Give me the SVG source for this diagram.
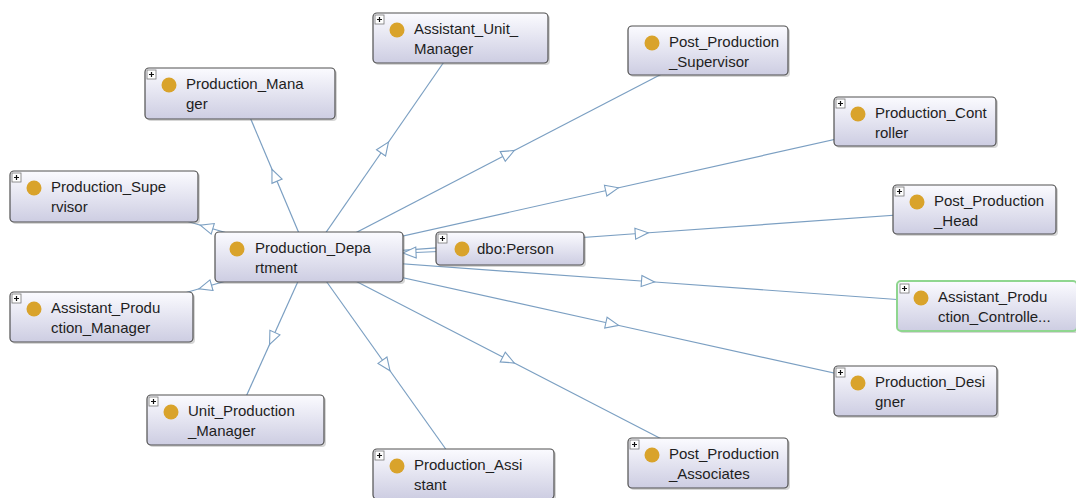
<svg xmlns="http://www.w3.org/2000/svg" width="1076" height="498" viewBox="0 0 1076 498">
<defs>
  <linearGradient id="nodeFill" x1="0" y1="0" x2="0" y2="1">
    <stop offset="0" stop-color="#fbfbff"/>
    <stop offset="1" stop-color="#cdcde2"/>
  </linearGradient>
  <marker id="tri" markerUnits="userSpaceOnUse" markerWidth="16" markerHeight="14" viewBox="-1 -7 16 14" refX="6.5" refY="0" orient="auto">
    <path d="M0,-5.5 L13,0 L0,5.5 Z" fill="#ffffff" stroke="#7b9fc2" stroke-width="1.1"/>
  </marker>
  <g id="plus">
    <rect x="0" y="0" width="9" height="9" fill="#ffffff" stroke="#777" stroke-width="0.8"/>
    <path d="M2,4.5 H7 M4.5,2 V7" stroke="#111" stroke-width="1.2"/>
  </g>
</defs>
<style>
  .edge { fill: none; stroke: #7b9fc2; stroke-width: 1.2; marker-mid: url(#tri); }
  .box { fill: url(#nodeFill); stroke: #505050; stroke-width: 1.2; }
  .sel { stroke: #8fd68f; stroke-width: 2; }
  .shadow { fill: #8a8a8a; opacity: 0.35; }
  .dot { fill: #d9a32b; }
  .lbl { font-family: "Liberation Sans", Arial, sans-serif; font-size: 15px; fill: #1e1e1e; }
</style>
<rect width="1076" height="498" fill="#ffffff"/>

<g id="connectors">
  <path class="edge" d="M309,257 L384.75,147.5 L460.5,38"/>
  <path class="edge" d="M309,257 L508.5,153.5 L708,50"/>
  <path class="edge" d="M309,257 L274.5,175.25 L240,93.5"/>
  <path class="edge" d="M309,257 L612,189.25 L915,121.5"/>
  <path class="edge" d="M309,257 L206.5,227 L104,197"/>
  <path class="edge" d="M309,257 L641.75,233.25 L974.5,209.5"/>
  <path class="edge" d="M309,257 L205.25,287 L101.5,317"/>
  <path class="edge" d="M309,257 L648,281.5 L987,306"/>
  <path class="edge" d="M309,257 L272.25,338.5 L235.5,420"/>
  <path class="edge" d="M309,257 L612.25,324 L915.5,391"/>
  <path class="edge" d="M309,257 L386.25,365.5 L463.5,474"/>
  <path class="edge" d="M309,257 L508.5,360 L708,463"/>
  <path class="edge" d="M510,248.5 L409.5,252.75 L309,257"/>
</g>

<g id="n_assistant_unit_manager">
  <rect class="shadow" x="375" y="15" width="175" height="50" rx="4"/>
  <rect class="box" x="373" y="13" width="175" height="50" rx="4"/>
  <use href="#plus" x="375" y="15"/>
  <circle class="dot" cx="397" cy="30" r="7.5"/>
  <text class="lbl" x="414" y="34">Assistant_Unit_</text>
  <text class="lbl" x="414" y="54">Manager</text>
</g>

<g id="n_post_production_supervisor">
  <rect class="shadow" x="630" y="28" width="160" height="49" rx="4"/>
  <rect class="box" x="628" y="26" width="160" height="49" rx="4"/>
  <circle class="dot" cx="652" cy="43" r="7.5"/>
  <text class="lbl" x="669" y="47">Post_Production</text>
  <text class="lbl" x="669" y="67">_Supervisor</text>
</g>

<g id="n_production_manager">
  <rect class="shadow" x="147" y="70" width="190" height="51" rx="4"/>
  <rect class="box" x="145" y="68" width="190" height="51" rx="4"/>
  <use href="#plus" x="147" y="70"/>
  <circle class="dot" cx="169" cy="85" r="7.5"/>
  <text class="lbl" x="186" y="89">Production_Mana</text>
  <text class="lbl" x="186" y="109">ger</text>
</g>

<g id="n_production_controller">
  <rect class="shadow" x="836" y="99" width="162" height="49" rx="4"/>
  <rect class="box" x="834" y="97" width="162" height="49" rx="4"/>
  <use href="#plus" x="836" y="99"/>
  <circle class="dot" cx="858" cy="114" r="7.5"/>
  <text class="lbl" x="875" y="118">Production_Cont</text>
  <text class="lbl" x="875" y="138">roller</text>
</g>

<g id="n_production_supervisor">
  <rect class="shadow" x="12" y="173" width="188" height="51" rx="4"/>
  <rect class="box" x="10" y="171" width="188" height="51" rx="4"/>
  <use href="#plus" x="12" y="173"/>
  <circle class="dot" cx="34" cy="188" r="7.5"/>
  <text class="lbl" x="51" y="192">Production_Supe</text>
  <text class="lbl" x="51" y="212">rvisor</text>
</g>

<g id="n_production_department">
  <rect class="shadow" x="217" y="234" width="188" height="50" rx="4"/>
  <rect class="box" x="215" y="232" width="188" height="50" rx="4"/>
  <circle class="dot" cx="237" cy="249" r="7.5"/>
  <text class="lbl" x="255" y="253">Production_Depa</text>
  <text class="lbl" x="255" y="273">rtment</text>
</g>

<g id="n_dbo_person">
  <rect class="shadow" x="438" y="234" width="148" height="33" rx="4"/>
  <rect class="box" x="436" y="232" width="148" height="33" rx="4"/>
  <use href="#plus" x="438" y="234"/>
  <circle class="dot" cx="462" cy="249" r="7.5"/>
  <text class="lbl" x="477" y="254">dbo:Person</text>
</g>

<g id="n_post_production_head">
  <rect class="shadow" x="895" y="187" width="163" height="49" rx="4"/>
  <rect class="box" x="893" y="185" width="163" height="49" rx="4"/>
  <use href="#plus" x="895" y="187"/>
  <circle class="dot" cx="917" cy="202" r="7.5"/>
  <text class="lbl" x="934" y="206">Post_Production</text>
  <text class="lbl" x="934" y="226">_Head</text>
</g>

<g id="n_assistant_production_manager">
  <rect class="shadow" x="12" y="294" width="183" height="50" rx="4"/>
  <rect class="box" x="10" y="292" width="183" height="50" rx="4"/>
  <use href="#plus" x="12" y="294"/>
  <circle class="dot" cx="34" cy="309" r="7.5"/>
  <text class="lbl" x="51" y="313">Assistant_Produ</text>
  <text class="lbl" x="51" y="333">ction_Manager</text>
</g>

<g id="n_assistant_production_controller">
  <rect class="shadow" x="899" y="283" width="180" height="50" rx="4"/>
  <rect class="box sel" x="897" y="281" width="180" height="50" rx="4"/>
  <use href="#plus" x="900" y="284"/>
  <circle class="dot" cx="921" cy="298" r="7.5"/>
  <text class="lbl" x="938" y="302">Assistant_Produ</text>
  <text class="lbl" x="938" y="322">ction_Controlle...</text>
</g>

<g id="n_unit_production_manager">
  <rect class="shadow" x="149" y="397" width="177" height="50" rx="4"/>
  <rect class="box" x="147" y="395" width="177" height="50" rx="4"/>
  <use href="#plus" x="149" y="397"/>
  <circle class="dot" cx="171" cy="412" r="7.5"/>
  <text class="lbl" x="188" y="416">Unit_Production</text>
  <text class="lbl" x="188" y="436">_Manager</text>
</g>

<g id="n_production_designer">
  <rect class="shadow" x="836" y="368" width="163" height="50" rx="4"/>
  <rect class="box" x="834" y="366" width="163" height="50" rx="4"/>
  <use href="#plus" x="836" y="368"/>
  <circle class="dot" cx="858" cy="383" r="7.5"/>
  <text class="lbl" x="875" y="387">Production_Desi</text>
  <text class="lbl" x="875" y="407">gner</text>
</g>

<g id="n_production_assistant">
  <rect class="shadow" x="375" y="451" width="181" height="50" rx="4"/>
  <rect class="box" x="373" y="449" width="181" height="50" rx="4"/>
  <use href="#plus" x="375" y="451"/>
  <circle class="dot" cx="397" cy="466" r="7.5"/>
  <text class="lbl" x="414" y="470">Production_Assi</text>
  <text class="lbl" x="414" y="490">stant</text>
</g>

<g id="n_post_production_associates">
  <rect class="shadow" x="630" y="440" width="160" height="50" rx="4"/>
  <rect class="box" x="628" y="438" width="160" height="50" rx="4"/>
  <use href="#plus" x="630" y="440"/>
  <circle class="dot" cx="652" cy="455" r="7.5"/>
  <text class="lbl" x="669" y="459">Post_Production</text>
  <text class="lbl" x="669" y="479">_Associates</text>
</g>
</svg>
